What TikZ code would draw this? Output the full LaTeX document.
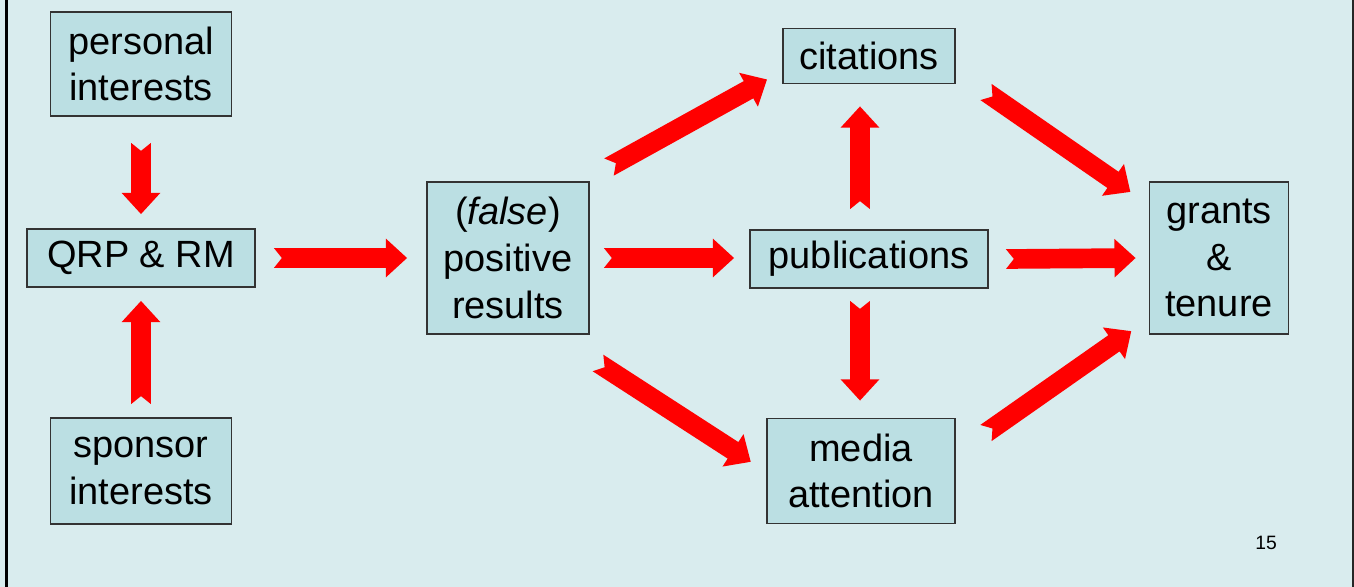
\documentclass[tikz,border=0pt]{standalone}
\usepackage{fontspec}
\setmainfont{Liberation Sans}
\usetikzlibrary{calc}
\definecolor{slidebg}{HTML}{D9ECEE}
\definecolor{boxfill}{HTML}{BBDFE3}
\definecolor{arrowred}{HTML}{FF0000}
\tikzset{box/.style={rectangle,draw=black!80,fill=boxfill,line width=1.1pt,align=center,inner sep=0pt,font=\fontsize{21.6}{26.6}\selectfont}}
% notched block arrow between two points
\newcommand{\fatarrow}[2]{%
  \fill[arrowred] let \p1=#1, \p2=#2, \n1={atan2(\y2-\y1,\x2-\x1)}, \n2={veclen(\x2-\x1,\y2-\y1)} in
    {[shift={(\p1)},rotate=\n1] (0,-5.6pt) -- ({\n2-12pt},-5.6pt) -- ({\n2-12pt},-11pt) -- ({\n2},0)
    -- ({\n2-12pt},11pt) -- ({\n2-12pt},5.6pt) -- (0,5.6pt) -- (4.5pt,0) -- cycle};}

\begin{document}
\begin{tikzpicture}[x=0.2mm,y=-0.2mm]
    \useasboundingbox (0,0) rectangle (1354,587);
    \fill[slidebg] (0,0) rectangle (1354,587);
    \draw[line width=1.8pt] (6.5,0) -- (6.5,587);
    \draw[line width=0.6pt,black!85] (1353,0) -- (1353,587);

    \node [box, minimum width=3.62cm, minimum height=2.08cm] (personal) at (141,64) {personal\\interests};
    \node [box, minimum width=4.56cm, minimum height=1.16cm] (qrp) at (141,258) {QRP \& RM};
    \node [box, minimum width=3.62cm, minimum height=2.12cm] (sponsor) at (141,471) {sponsor\\interests};
    \node [box, minimum width=3.24cm, minimum height=3.04cm] (positive) at (508,258) {(\textit{false})\\positive\\results};
    \node [box, minimum width=3.44cm, minimum height=1.10cm] (citations) at (869,56) {citations};
    \node [box, minimum width=4.76cm, minimum height=1.16cm] (publications) at (869,259) {publications};
    \node [box, minimum width=3.76cm, minimum height=2.10cm] (media) at (861,471) {media\\attention};
    \node [box, minimum width=2.78cm, minimum height=3.04cm] (grants) at (1219,258) {grants\\\&\\tenure};

    \node [font=\fontsize{11}{13}\selectfont] (pagenum) at (1266,543) {15};

    % arrows
    \fatarrow{($(personal.south)+(0,26)$)}{($(qrp.north)+(0,-14)$)}
    \fatarrow{($(sponsor.north)+(0,-13)$)}{($(qrp.south)+(0,13)$)}
    \fatarrow{($(qrp.east)+(18,0)$)}{($(positive.west)+(-19,0)$)}
    \fatarrow{($(positive.east)+(14,0)$)}{($(publications.west)+(-15,-1)$)}
    \fatarrow{($(positive.north east)+(19,-14)$)}{($(citations.south west)+(-15,-5)$)}
    \fatarrow{($(positive.south east)+(8,28)$)}{($(media.west)+(-15,-9)$)}
    \fatarrow{($(publications.north)+(-9,-20)$)}{($(citations.south)+(-9,22)$)}
    \fatarrow{($(publications.south)+(-9,12)$)}{($(media.north)+(-1,-17)$)}
    \fatarrow{($(citations.east)+(30,36)$)}{($(grants.north west)+(-18,11)$)}
    \fatarrow{($(publications.east)+(17,0)$)}{($(grants.west)+(-13,0)$)}
    \fatarrow{($(media.east)+(30,-38)$)}{($(grants.south west)+(-17,-4)$)}
\end{tikzpicture}
\end{document}
